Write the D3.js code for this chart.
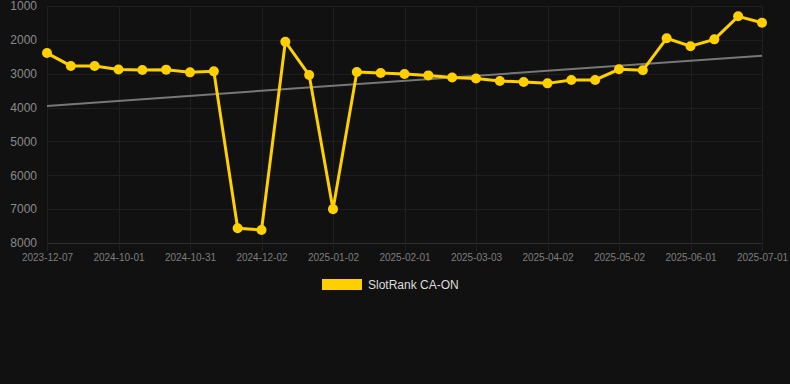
<!DOCTYPE html>
<html>
<head>
<meta charset="utf-8">
<script src="https://cdn.jsdelivr.net/npm/d3@7"></script>
<style>
  html, body { margin: 0; padding: 0; background: #111111; }
  svg { display: block; }
</style>
</head>
<body>
<script>
// Category labels (only every third one is printed on the axis)
const dates = [
  "2023-12-07", "2024-09-11", "2024-09-21", "2024-10-01", "2024-10-11", "2024-10-21",
  "2024-10-31", "2024-11-10", "2024-11-21", "2024-12-02", "2024-12-12", "2024-12-22",
  "2025-01-02", "2025-01-12", "2025-01-22", "2025-02-01", "2025-02-11", "2025-02-21",
  "2025-03-03", "2025-03-13", "2025-03-23", "2025-04-02", "2025-04-12", "2025-04-22",
  "2025-05-02", "2025-05-12", "2025-05-22", "2025-06-01", "2025-06-11", "2025-06-21",
  "2025-07-01"
];
// Rank values
const ranks = [
  2390, 2770, 2770, 2875, 2890, 2880, 2960, 2930, 7565, 7615, 2055,
  3040, 7000, 2950, 2980, 3010, 3050, 3110, 3140, 3215, 3245, 3285,
  3185, 3185, 2870, 2900, 1955, 2190, 1985, 1305, 1495
];
// Trend line: value at first and last category
const trend = [3950, 2470];
const yTicks = [1000, 2000, 3000, 4000, 5000, 6000, 7000, 8000];
const seriesName = "SlotRank CA-ON";

const width = 790, height = 384;
const plotLeft = 47, plotRight = 762, plotTop = 6, plotBottom = 243;

const svg = d3.select("body").append("svg")
  .attr("width", width)
  .attr("height", height)
  .style("background", "#111111");

const x = d3.scalePoint()
  .domain(dates)
  .range([plotLeft, plotRight]);

const y = d3.scaleLinear()
  .domain([1000, 8000])
  .range([plotTop, plotBottom]);

// horizontal grid
svg.append("g")
  .selectAll("line")
  .data(yTicks)
  .join("line")
  .attr("x1", plotLeft)
  .attr("x2", plotRight)
  .attr("y1", d => Math.round(y(d)) + 0.5)
  .attr("y2", d => Math.round(y(d)) + 0.5)
  .attr("stroke", d => d === 8000 ? "#2e2e2e" : "#1f1f1f")
  .attr("stroke-width", 1);

// vertical grid, one per printed label
const shown = dates.filter((d, i) => i % 3 === 0);
svg.append("g")
  .selectAll("line")
  .data(shown)
  .join("line")
  .attr("x1", d => Math.round(x(d)) + 0.5)
  .attr("x2", d => Math.round(x(d)) + 0.5)
  .attr("y1", plotTop)
  .attr("y2", plotBottom + 8)
  .attr("stroke", "#1f1f1f")
  .attr("stroke-width", 1);

// y axis labels
const yAxis = d3.axisLeft(y).tickValues(yTicks).tickSize(0).tickPadding(10).tickFormat(d3.format("d"));
svg.append("g")
  .attr("transform", `translate(${plotLeft},0)`)
  .call(yAxis)
  .call(g => g.select(".domain").remove())
  .call(g => g.selectAll("text")
    .attr("fill", "#8a8a8a")
    .style("font-family", "Arial, 'Liberation Sans', sans-serif")
    .style("font-size", "12px"));

// x axis labels
const xAxis = d3.axisBottom(x).tickValues(shown).tickSize(0).tickPadding(11);
svg.append("g")
  .attr("transform", `translate(0,${plotBottom})`)
  .call(xAxis)
  .call(g => g.select(".domain").remove())
  .call(g => g.selectAll("text")
    .attr("fill", "#7d7d7d")
    .style("font-family", "Arial, 'Liberation Sans', sans-serif")
    .style("font-size", "10px"));

// trend line
svg.append("line")
  .attr("x1", x(dates[0]))
  .attr("x2", x(dates[dates.length - 1]))
  .attr("y1", y(trend[0]))
  .attr("y2", y(trend[1]))
  .attr("stroke", "#777777")
  .attr("stroke-width", 2);

// rank line
const line = d3.line()
  .x((d, i) => x(dates[i]))
  .y(d => y(d));

svg.append("path")
  .datum(ranks)
  .attr("d", line)
  .attr("fill", "none")
  .attr("stroke", "#ffd000")
  .attr("stroke-width", 3)
  .attr("stroke-linejoin", "miter");

svg.append("g")
  .selectAll("circle")
  .data(ranks)
  .join("circle")
  .attr("cx", (d, i) => x(dates[i]))
  .attr("cy", d => y(d))
  .attr("r", 5)
  .attr("fill", "#ffd000");

// legend
const legend = svg.append("g").attr("transform", "translate(322,279)");
legend.append("rect")
  .attr("width", 40)
  .attr("height", 11)
  .attr("fill", "#ffd000");
legend.append("text")
  .attr("x", 46)
  .attr("y", 10)
  .attr("fill", "#dddddd")
  .style("font-family", "Arial, 'Liberation Sans', sans-serif")
  .style("font-size", "12px")
  .text(seriesName);
</script>
</body>
</html>
